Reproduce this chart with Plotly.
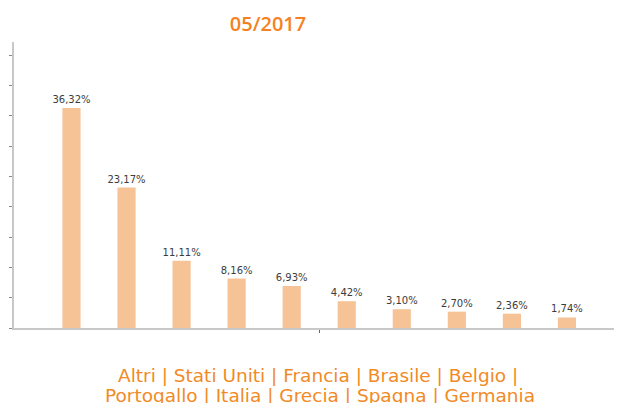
import plotly.graph_objects as go

categories = ["Altri", "Stati Uniti", "Francia", "Brasile", "Belgio",
              "Portogallo", "Italia", "Grecia", "Spagna", "Germania"]
values = [36.32, 23.17, 11.11, 8.16, 6.93, 4.42, 3.10, 2.70, 2.36, 1.74]
value_labels = ["36,32%", "23,17%", "11,11%", "8,16%", "6,93%",
                "4,42%", "3,10%", "2,70%", "2,36%", "1,74%"]
title_text = "05/2017"

positions = list(range(len(categories)))

# page body has an 8px default margin; the figure is sized/offset to compensate
OFF = 8
W, H = 622 - OFF, 403 - OFF
L, T = 14 - OFF, 42 - OFF
BASE = 328 - OFF

fig = go.Figure()
fig.add_trace(go.Bar(
    x=positions, y=values, width=0.33,
    marker=dict(color="#f6c397", line=dict(width=0)),
    text=value_labels, textposition="outside", cliponaxis=False,
    constraintext="none",
    textfont=dict(family="DejaVu Sans", size=10, color="#3c3c3c"),
    hoverinfo="skip",
))

line1 = " | ".join(categories[:5]) + " |"
line2 = " | ".join(categories[5:])

orange = "#f28a26"
pw = W - L
fig.update_layout(
    width=W, height=H,
    margin=dict(l=L, r=0, t=T, b=H - BASE, pad=0),
    paper_bgcolor="white", plot_bgcolor="white",
    showlegend=False,
    title=dict(text=title_text, x=(268 - OFF) / W, xanchor="center", xref="container",
               y=1 - (24 - OFF) / H, yanchor="middle", yref="container",
               font=dict(family="Open Sans", size=20, color="#f5821f", weight=600)),
    xaxis=dict(range=[-1.044, 10.0], showgrid=False, zeroline=False,
               showline=True, linecolor="#c8c8c8", linewidth=2,
               tickvals=[4.5], ticktext=[""], ticks="outside", ticklen=3,
               tickcolor="#666666", tickwidth=1, showticklabels=False),
    yaxis=dict(range=[0, 47.2], showgrid=False, zeroline=False,
               showline=True, linecolor="#c8c8c8", linewidth=2,
               dtick=5, tick0=0, ticks="outside", ticklen=3,
               tickcolor="#888888", tickwidth=1, showticklabels=False),
    annotations=[
        dict(text=line1, xref="paper", yref="paper", x=(318 - OFF - L) / pw, y=0,
             xanchor="center", yanchor="middle", yshift=-(375 - 328), showarrow=False,
             font=dict(family="DejaVu Sans", size=18.5, color=orange)),
        dict(text=line2, xref="paper", yref="paper", x=(319.5 - OFF - L) / pw, y=0,
             xanchor="center", yanchor="middle", yshift=-(395 - 328), showarrow=False,
             font=dict(family="DejaVu Sans", size=18.5, color=orange)),
    ],
)

fig.write_html("out.html")
